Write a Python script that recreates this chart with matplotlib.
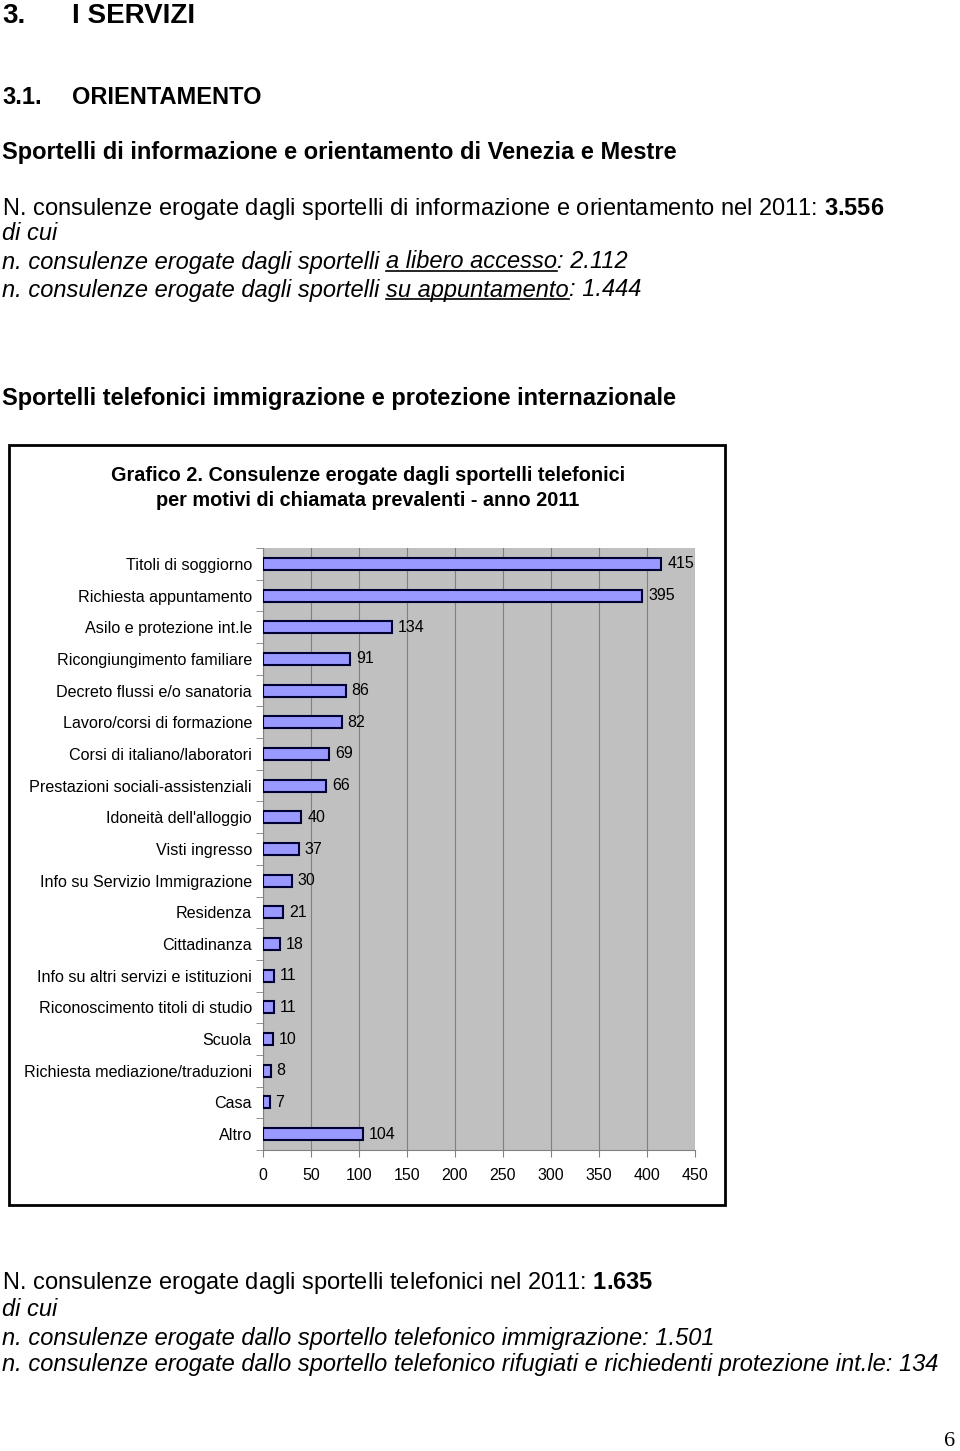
import matplotlib
matplotlib.use('Agg')
import matplotlib.pyplot as plt
import numpy as np
from matplotlib.patches import Rectangle

plt.rcParams['font.family'] = ['Liberation Sans', 'DejaVu Sans']
plt.rcParams['mathtext.fontset'] = 'custom'
plt.rcParams['mathtext.rm'] = 'Liberation Sans'
plt.rcParams['mathtext.bf'] = 'Liberation Sans:bold'
plt.rcParams['mathtext.it'] = 'Liberation Sans:italic'

categories = ['Titoli di soggiorno', 'Richiesta appuntamento', 'Asilo e protezione int.le',
              'Ricongiungimento familiare', 'Decreto flussi e/o sanatoria',
              'Lavoro/corsi di formazione', 'Corsi di italiano/laboratori',
              'Prestazioni sociali-assistenziali', "Idoneità dell'alloggio", 'Visti ingresso',
              'Info su Servizio Immigrazione', 'Residenza', 'Cittadinanza',
              'Info su altri servizi e istituzioni', 'Riconoscimento titoli di studio',
              'Scuola', 'Richiesta mediazione/traduzioni', 'Casa', 'Altro']
values = [415, 395, 134, 91, 86, 82, 69, 66, 40, 37, 30, 21, 18, 11, 11, 10, 8, 7, 104]
xticks = [0, 50, 100, 150, 200, 250, 300, 350, 400, 450]

W, H = 960, 1451
fig = plt.figure(figsize=(W / 100, H / 100), dpi=100)
fig.patch.set_facecolor('white')
renderer = fig.canvas.get_renderer()


def fx(px):
    return px / W


def fy(py):
    return 1 - py / H


def runs(x, y, parts, size=17):
    # parts: (text, weight, style, underline); y = middle of the capitals
    base = y + size * 100 / 72 * 0.36
    for txt, weight, style, ul in parts:
        t = fig.text(fx(x), fy(base), txt, fontsize=size, fontweight=weight,
                     fontstyle=style, va='baseline', ha='left')
        bb = t.get_window_extent(renderer)
        if ul:
            uy = H - (base + 2.5)
            fig.add_artist(plt.Line2D([bb.x0 / W, bb.x1 / W], [uy / H, uy / H],
                                      color='black', lw=1.2))
        x = bb.x1


runs(2, 13, [('3.', 'bold', 'normal', False)], size=20)
runs(72, 13, [('I SERVIZI', 'bold', 'normal', False)], size=20)
runs(2, 96, [('3.1.', 'bold', 'normal', False)])
runs(72, 96, [('ORIENTAMENTO', 'bold', 'normal', False)])
runs(2, 151, [('Sportelli di informazione e orientamento di Venezia e Mestre', 'bold', 'normal', False)])
runs(2, 206, [(r'N. consulenze erogate dagli sportelli di informazione e orientamento nel 2011: $\mathbf{3.556}$',
               'normal', 'normal', False)])
runs(2, 232, [('di cui', 'normal', 'italic', False)])
runs(2, 260, [('n. consulenze erogate dagli sportelli ', 'normal', 'italic', False),
              ('a libero accesso', 'normal', 'italic', True),
              (': 2.112', 'normal', 'italic', False)])
runs(2, 288, [('n. consulenze erogate dagli sportelli ', 'normal', 'italic', False),
              ('su appuntamento', 'normal', 'italic', True),
              (': 1.444', 'normal', 'italic', False)])
runs(2, 397, [('Sportelli telefonici immigrazione e protezione internazionale', 'bold', 'normal', False)])

# chart frame
fig.add_artist(Rectangle((fx(9), fy(1205)), fx(716), (1205 - 445) / H,
                         fill=False, edgecolor='black', lw=2))
fig.text(fx(368), fy(476), 'Grafico 2. Consulenze erogate dagli sportelli telefonici',
         ha='center', va='center', fontsize=14.3, fontweight='bold')
fig.text(fx(368), fy(501), 'per motivi di chiamata prevalenti - anno 2011',
         ha='center', va='center', fontsize=14.3, fontweight='bold')

ax = fig.add_axes([fx(263), fy(1150), fx(695 - 263), (1150 - 548) / H])
ax.set_facecolor('#C0C0C0')
y = np.arange(len(categories))
ax.barh(y, values, height=0.38, color='#9999FF', edgecolor='#000033', lw=1.5, zorder=3)
for yi, v in zip(y, values):
    ax.text(v + 6, yi, str(v), va='center', ha='left', fontsize=11.5)
ax.set_xlim(0, 450)
ax.set_ylim(len(categories) - 0.5, -0.5)
ax.set_xticks(xticks)
ax.set_xticklabels([str(t) for t in xticks], fontsize=11.5)
ax.set_yticks(y)
ax.set_yticklabels(categories, fontsize=11.6)
ax.set_yticks(np.arange(-0.5, len(categories), 1), minor=True)
ax.tick_params(axis='y', which='major', length=0, pad=8)
ax.tick_params(axis='y', which='minor', length=5, color='#808080')
ax.tick_params(axis='x', length=5, color='#808080', pad=8)
ax.grid(axis='x', color='#808080', lw=0.8, zorder=1)
for s in ['top', 'right']:
    ax.spines[s].set_visible(False)
ax.spines['left'].set_color('#808080')
ax.spines['bottom'].set_color('#808080')

runs(2, 1281, [(r'N. consulenze erogate dagli sportelli telefonici nel 2011: $\mathbf{1.635}$',
                'normal', 'normal', False)])
runs(2, 1308, [('di cui', 'normal', 'italic', False)])
runs(2, 1336, [('n. consulenze erogate dallo sportello telefonico immigrazione: 1.501', 'normal', 'italic', False)])
runs(2, 1363, [('n. consulenze erogate dallo sportello telefonico rifugiati e richiedenti protezione int.le: 134', 'normal', 'italic', False)])
fig.text(fx(950), fy(1441), '6', ha='center', va='center', fontsize=16, family='Liberation Serif')

fig.savefig('out.png', dpi=100)
